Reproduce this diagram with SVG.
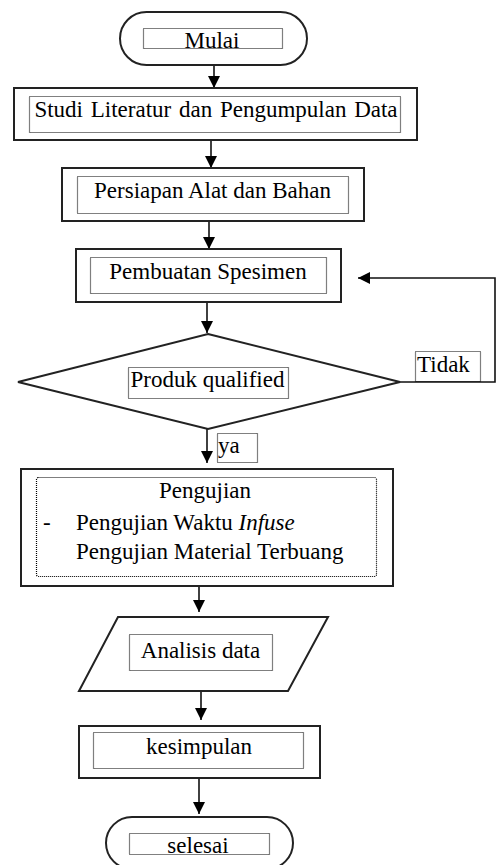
<svg xmlns="http://www.w3.org/2000/svg" width="497" height="865" viewBox="0 0 497 865">
<style>
.shape{fill:#fff;stroke:#222;stroke-width:2}
.dot{fill:none;stroke:#000;stroke-width:1.2;stroke-dasharray:1,1}
.t{font-family:"Liberation Serif","Times New Roman",serif;font-size:23px;fill:#000}
.c{text-anchor:middle}
.conn{fill:none;stroke:#111;stroke-width:1.6}
</style>
<defs>
<marker id="ah" markerWidth="12" markerHeight="12" refX="12" refY="6" orient="auto" markerUnits="userSpaceOnUse">
<path d="M0,0 L12,6 L0,12 Z" fill="#000"/>
</marker>
</defs>
<g id="connectors">
<line class="conn" x1="214" y1="65" x2="214" y2="88" marker-end="url(#ah)"/>
<line class="conn" x1="211" y1="140" x2="211" y2="168" marker-end="url(#ah)"/>
<line class="conn" x1="209" y1="221" x2="209" y2="249" marker-end="url(#ah)"/>
<line class="conn" x1="207" y1="302" x2="207" y2="333" marker-end="url(#ah)"/>
<polyline class="conn" points="400,382 495,382 495,278 358,278" marker-end="url(#ah)"/>
<line class="conn" x1="207" y1="429" x2="207" y2="463" marker-end="url(#ah)"/>
<line class="conn" x1="199" y1="586" x2="199" y2="612" marker-end="url(#ah)"/>
<line class="conn" x1="201" y1="691" x2="201" y2="720" marker-end="url(#ah)"/>
<line class="conn" x1="199" y1="778" x2="199" y2="814" marker-end="url(#ah)"/>
</g>
<g id="mulai">
<rect class="shape" x="120" y="12" width="187" height="53" rx="26.5"/>
<rect class="dot" x="143.5" y="28.5" width="139" height="20"/>
<text class="t c" x="212" y="48">Mulai</text>
</g>
<g id="studi">
<rect class="shape" x="14" y="88" width="403" height="52"/>
<rect class="dot" x="29.5" y="96.5" width="371" height="36"/>
<text class="t c" x="216" y="117" word-spacing="2">Studi Literatur dan Pengumpulan Data</text>
</g>
<g id="persiapan">
<rect class="shape" x="62" y="168" width="302" height="53"/>
<rect class="dot" x="77.5" y="176.5" width="271" height="37"/>
<text class="t c" x="212.5" y="198">Persiapan Alat dan Bahan</text>
</g>
<g id="pembuatan">
<rect class="shape" x="76" y="249" width="265" height="53"/>
<rect class="dot" x="90.5" y="257.5" width="236" height="36"/>
<text class="t c" x="208" y="279">Pembuatan Spesimen</text>
</g>
<g id="produk">
<polygon class="shape" points="208,334 400,382 208,429 18,382"/>
<rect class="dot" x="128.5" y="367.5" width="160" height="31"/>
<text class="t c" x="207.5" y="387">Produk qualified</text>
</g>
<g id="label-tidak">
<rect class="dot" x="415.5" y="351.5" width="65" height="30"/>
<text class="t" x="417" y="372">Tidak</text>
</g>
<g id="label-ya">
<rect class="dot" x="217.5" y="433.5" width="40" height="29"/>
<text class="t" x="218" y="453">ya</text>
</g>
<g id="pengujian">
<rect class="shape" x="21" y="469" width="372" height="117"/>
<rect class="dot" x="36.5" y="477.5" width="340" height="99" rx="2"/>
<text class="t c" x="205" y="498">Pengujian</text>
<text class="t" x="43" y="530">-</text>
<text class="t" x="76" y="530">Pengujian Waktu <tspan font-style="italic">Infuse</tspan></text>
<text class="t" x="76" y="559">Pengujian Material Terbuang</text>
</g>
<g id="analisis">
<polygon class="shape" points="118,617 328,617 288,691 79,691"/>
<rect class="dot" x="129.5" y="634.5" width="143" height="36"/>
<text class="t c" x="200.5" y="658">Analisis data</text>
</g>
<g id="kesimpulan">
<rect class="shape" x="79" y="726" width="241" height="52"/>
<rect class="dot" x="93.5" y="732.5" width="210" height="36"/>
<text class="t c" x="199" y="754">kesimpulan</text>
</g>
<g id="selesai">
<rect class="shape" x="106" y="817" width="187" height="52" rx="26"/>
<rect class="dot" x="129.5" y="833.5" width="140" height="21"/>
<text class="t c" x="198" y="853">selesai</text>
</g>
</svg>
